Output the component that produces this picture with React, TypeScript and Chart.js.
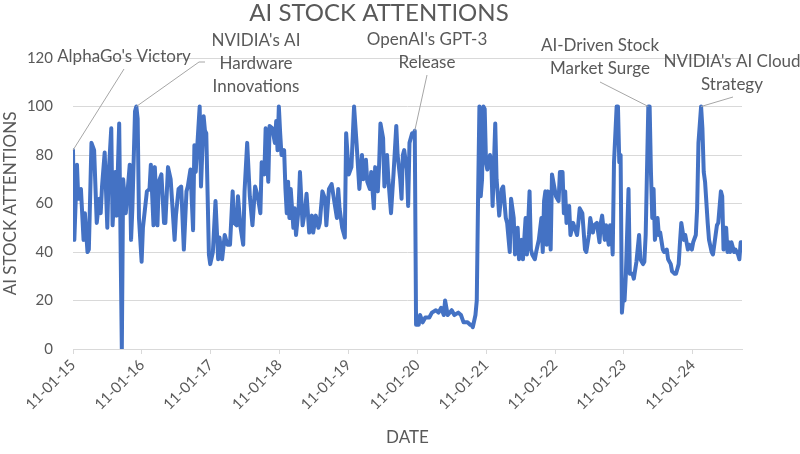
import { useEffect, useRef } from "react";
import { Chart, registerables } from "chart.js";

Chart.register(...registerables);

// ---- data -------------------------------------------------------------
const START_DATE = "2015-11-01"; // week 0
const TITLE = "AI STOCK ATTENTIONS";
const X_TITLE = "DATE";
const Y_TITLE = "AI STOCK ATTENTIONS";

// weeks since START_DATE at which a value was read
const WEEKS: number[] = [
  0, 1, 3, 4, 6, 8, 9, 11, 12, 14, 16, 18, 20, 21, 22, 24, 26, 27, 29, 30, 32, 33, 35, 37, 38, 40, 43, 44, 45, 47, 48, 49,
  50, 52, 53, 56, 58, 59, 61, 62, 64, 65, 67, 69, 70, 72, 74, 77, 78, 80, 82, 84, 86, 87, 89, 91, 92, 93, 96, 97, 99,
  100, 101, 103, 104, 106, 108, 110, 111, 113, 115, 117, 119, 121, 122, 124, 125, 127, 129, 130, 132, 134, 136, 138,
  140, 142, 143, 145, 146, 148, 149, 151, 153, 154, 155, 156, 157, 158, 160, 161, 162, 163, 164, 165, 167, 168, 169,
  171, 172, 174, 176, 177, 179, 181, 182, 184, 186, 187, 189, 191, 192, 194, 196, 198, 200,
  201, 202, 204, 206, 207, 209, 211, 213, 215, 217, 219, 220, 222, 223, 225, 226, 228, 229, 231, 232, 233, 235, 236,
  238, 239, 241, 243, 245, 246, 248, 249, 250, 251, 253, 254, 255, 257, 258, 259, 260, 262, 263, 265, 267, 270, 272,
  275, 277, 279, 281, 282, 284, 287, 289, 292, 294, 296, 299, 301, 302,
  303, 305, 306, 307, 308, 309, 310, 311, 312, 313, 314, 316, 317, 318, 320, 321, 322, 323, 325, 326, 328, 329, 331,
  332, 334, 335, 337, 338, 340, 341, 343, 344, 346, 347, 348, 350, 351, 353, 355, 356, 357, 358, 359, 360, 362, 363,
  365, 366, 368, 369, 371, 372, 373, 374, 376, 377, 379, 382, 383, 384, 386, 388, 389, 391, 392, 394, 395, 397, 399,
  400, 401, 403, 404, 406, 407,
  408, 409, 410, 412, 413, 414, 415, 416, 417, 418, 419, 421, 422, 424, 425, 427, 429, 430, 432, 433, 434, 436, 437,
  438, 439, 440, 441, 443, 444, 445, 447, 448, 450, 451, 453, 454, 456, 457, 459, 460, 461, 463, 464, 466, 467, 469,
  470, 472, 473, 474, 476, 477, 478, 479, 481, 482, 484, 485, 487, 488, 489, 491, 492, 493, 494, 495, 496, 497, 498,
  499, 501, 502, 504, 505, 506, 507,
];

const VALUES: number[] = [
  82, 45, 76, 62, 66, 45, 56, 40, 41, 85, 82, 52, 62, 56, 67, 81, 50, 72, 91, 51, 73, 55, 93, 0, 70, 56, 76, 45, 58, 98, 100, 95,
  54, 36, 50, 65, 66, 76, 51, 75, 51, 69, 72, 52, 52, 75, 70, 45, 55, 66, 67, 41, 65, 67, 74, 49, 84, 73, 100, 67, 96,
  90, 89, 39, 35, 40, 61, 37, 46, 37, 47, 43, 43, 65, 52, 51, 63, 50, 43, 65, 85, 63, 51, 67,
  63, 56, 77, 72, 91, 69, 92, 91, 85, 94, 82, 100, 89, 80, 82, 66, 56, 69, 54, 66, 50, 58, 47,
  58, 73, 51, 58, 64, 48, 55, 48, 55, 50, 52, 65, 62, 51, 66, 68, 61, 54,
  66, 58, 50, 46, 89, 72, 75, 100, 84, 66, 80, 70, 78, 69, 66, 73, 58, 75, 65, 76, 93, 87, 67,
  80, 70, 56, 73, 92, 80, 70, 62, 80, 82, 74, 59, 85, 89, 88, 90, 10, 10, 14, 11, 13, 13, 15,
  16, 15, 17, 14, 20, 14, 16, 14, 15, 14, 11, 11, 10, 10,
  9, 14, 20, 63, 100, 63, 70, 100, 99, 77, 74, 80, 77, 59, 93, 70, 63, 55, 66, 67, 54, 52, 40,
  62, 54, 39, 50, 37, 45, 37, 54, 39, 65, 41, 39, 37, 40, 45, 54, 40, 61, 65, 43, 65, 41, 72,
  66, 63, 61, 73, 73, 56, 65, 52, 59, 47, 52, 47, 52, 58, 56, 41, 40, 47, 54, 48, 51, 52, 44,
  52, 55, 45, 51, 43, 51,
  50, 39, 77, 100, 100, 77, 80, 15, 22, 20, 31, 66, 31, 31, 29, 36, 47, 37, 35, 36, 47, 100, 100,
  73, 54, 66, 45, 54, 47, 48, 41, 40, 41, 37, 35, 32, 31, 31, 35, 44, 52, 45, 47, 41, 43, 41,
  44, 47, 58, 85, 100, 91, 73, 69, 52, 45, 40, 39, 47, 51, 52, 65, 63, 41, 50, 50, 40, 44, 40,
  44, 40, 41, 39, 37, 44, 44,
];

const TICK_DATES: string[] = [
  "2015-11-01", "2016-11-01", "2017-11-01", "2018-11-01", "2019-11-01",
  "2020-11-01", "2021-11-01", "2022-11-01", "2023-11-01", "2024-11-01",
];
const TICK_LABELS: string[] = [
  "11-01-15", "11-01-16", "11-01-17", "11-01-18", "11-01-19",
  "11-01-20", "11-01-21", "11-01-22", "11-01-23", "11-01-24",
];
const Y_TICKS: number[] = [0, 20, 40, 60, 80, 100, 120];

const EVENT_LABELS: string[][] = [
  ["AlphaGo's Victory"],
  ["NVIDIA's AI", "Hardware", "Innovations"],
  ["OpenAI's GPT-3", "Release"],
  ["AI-Driven Stock", "Market Surge"],
  ["NVIDIA's AI Cloud", "Strategy"],
];
const EVENT_WEEKS: number[] = [0, 48, 259, 436, 476];

// ---- layout / style (not data) ---------------------------------------
const FONT = "Lato, 'Open Sans', sans-serif";
const TEXT = "#595959";
const GRID = "#d9d9d9";
const LINE = "#4472C4";
const LEADER = "#a6a6a6";

// label text positions: center x, baselines, leader-line path end points
const EVENT_LAYOUT = [
  { cx: 124, baselines: [62], path: [[124, 69]] },
  { cx: 256, baselines: [46, 69, 92], path: [[199, 62], [205, 62]] },
  { cx: 427, baselines: [45, 68], path: [[427, 75]] },
  { cx: 600, baselines: [51, 74], path: [[600, 82]] },
  { cx: 732, baselines: [67, 90], path: [[733, 97]] },
];

export default function App() {
  const ref = useRef<HTMLCanvasElement | null>(null);

  useEffect(() => {
    const canvas = ref.current;
    if (!canvas) return;
    const startMs = Date.parse(START_DATE);
    const weekOf = (d: string) => (Date.parse(d) - startMs) / (7 * 86400000);
    const tickWeeks = TICK_DATES.map(weekOf);
    const points = WEEKS.map((w, i) => ({ x: w, y: VALUES[i] }));

    const overlay = {
      id: "overlay",
      afterDatasetsDraw(chart: any) {
        const ctx = chart.ctx as CanvasRenderingContext2D;
        const xs = chart.scales.x;
        const ys = chart.scales.y;
        ctx.save();
        // title
        ctx.fillStyle = TEXT;
        ctx.textAlign = "center";
        ctx.textBaseline = "alphabetic";
        ctx.font = `24px ${FONT}`;
        ctx.fillText(TITLE, 379, 21);

        // event labels
        EVENT_LABELS.forEach((lines, k) => {
          const lay = EVENT_LAYOUT[k];
          const w = EVENT_WEEKS[k];
          const idx = WEEKS.indexOf(w);
          const v = VALUES[idx];
          const px = xs.getPixelForValue(w);
          const py = ys.getPixelForValue(v);
          ctx.strokeStyle = LEADER;
          ctx.lineWidth = 1;
          ctx.beginPath();
          ctx.moveTo(px, py);
          lay.path.forEach(([x, y]) => ctx.lineTo(x, y));
          ctx.stroke();
          ctx.fillStyle = TEXT;
          ctx.font = `17px ${FONT}`;
          ctx.textAlign = "center";
          ctx.textBaseline = "alphabetic";
          lines.forEach((t, j) => ctx.fillText(t, lay.cx, lay.baselines[j]));
        });
        ctx.restore();
      },
    };

    const chart = new Chart(canvas, {
      type: "line",
      data: {
        datasets: [
          {
            data: points,
            borderColor: LINE,
            backgroundColor: LINE,
            borderWidth: 4,
            pointRadius: 0,
            tension: 0,
            borderJoinStyle: "round",
            borderCapStyle: "round",
          },
        ],
      },
      options: {
        responsive: true,
        maintainAspectRatio: false,
        animation: false,
        layout: { padding: { top: 58, right: 58, bottom: 6, left: 0 } },
        plugins: { legend: { display: false }, tooltip: { enabled: false }, title: { display: false } },
        scales: {
          x: {
            type: "linear",
            min: 0,
            max: 507,
            afterBuildTicks: (s: any) => {
              s.ticks = tickWeeks.map((v) => ({ value: v }));
            },
            afterFit: (s: any) => {
              s.height = 454 - 349 - 6;
            },
            ticks: {
              autoSkip: false,
              maxRotation: 45,
              minRotation: 45,
              color: TEXT,
              font: { family: FONT, size: 15 },
              padding: 2,
              callback: (_v: any, i: number) => TICK_LABELS[i],
            },
            grid: { drawOnChartArea: false, drawTicks: true, tickLength: 5, color: GRID },
            border: { display: true, color: GRID, width: 1 },
            title: { display: true, text: X_TITLE, color: TEXT, font: { family: FONT, size: 17 }, padding: { top: 0, bottom: 0 } },
          },
          y: {
            min: 0,
            max: 120,
            afterBuildTicks: (s: any) => {
              s.ticks = Y_TICKS.map((v) => ({ value: v }));
            },
            afterFit: (s: any) => {
              s.width = 73;
            },
            ticks: { color: TEXT, font: { family: FONT, size: 15 }, padding: 20 },
            grid: { color: GRID, lineWidth: 1, drawTicks: false },
            border: { display: false },
            title: { display: true, text: Y_TITLE, color: TEXT, font: { family: FONT, size: 17 }, padding: { top: 0, bottom: 0 } },
          },
        },
      },
      plugins: [overlay],
    } as any);
    return () => chart.destroy();
  }, []);

  return (
    <div style={{ position: "fixed", left: 0, top: 0, width: 800, height: 454, background: "#fff" }}>
      <canvas ref={ref} />
    </div>
  );
}
